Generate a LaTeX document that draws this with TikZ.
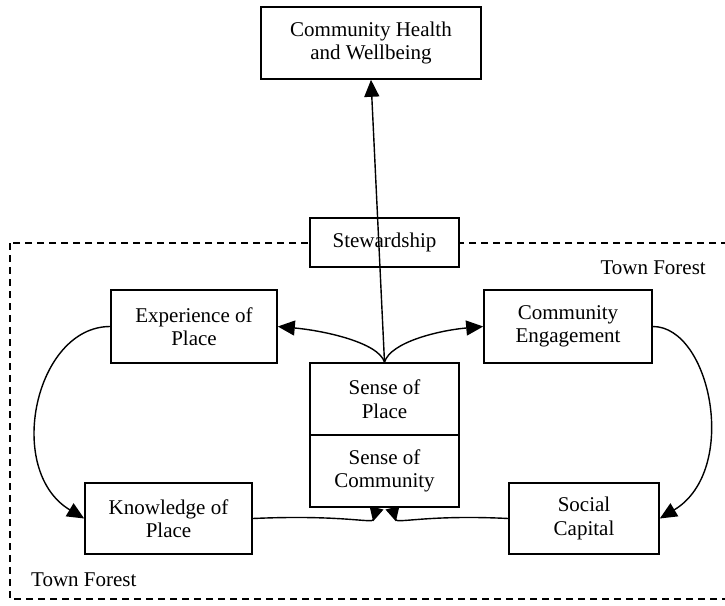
\documentclass[tikz,border=0pt]{standalone}
\usepackage{fontspec}
\setmainfont{Liberation Serif}
\usetikzlibrary{arrows.meta}
\begin{document}
\begin{tikzpicture}[x=1pt,y=-1pt,
  box/.style={draw, line width=1.6pt, fill=white, align=center, inner sep=0pt,
    font=\fontsize{21}{23.5}\selectfont},
  lbl/.style={inner sep=0pt, font=\fontsize{21}{23.5}\selectfont},
  conn/.style={line width=1.4pt, -{Triangle[length=17pt,width=15pt]}},
  rconn/.style={line width=1.4pt, -{Triangle[reversed,length=14pt,width=14pt]}},
  forest/.style={line width=1.3pt, dash pattern=on 7pt off 5pt}]
\useasboundingbox (0,0) rectangle (725,605);
\begin{scope}
\clip (0,0) rectangle (725,605);
\draw[forest] (10,243) rectangle (745,599);
\end{scope}
\node[box, minimum width=220pt, minimum height=72pt] (top) at (371,43) {Community Health\\and Wellbeing};
\node[box, minimum width=149pt, minimum height=49pt] (stew) at (384.5,242.5) {Stewardship};
\node[box, minimum width=166pt, minimum height=73pt] (exp) at (194,326.5) {Experience of\\Place};
\node[box, minimum width=168pt, minimum height=73pt] (ce) at (568,326.5) {Community\\Engagement};
\node[box, minimum width=149pt, minimum height=72pt] (sop) at (384.5,399) {Sense of\\Place};
\node[box, minimum width=149pt, minimum height=72pt] (soc) at (384.5,471) {Sense of\\Community};
\node[box, minimum width=167pt, minimum height=71pt] (kop) at (168.5,518.5) {Knowledge of\\Place};
\node[box, minimum width=150pt, minimum height=71pt] (sc) at (584,518.5) {Social\\Capital};
\node[lbl, anchor=east] (tf1) at (706,268) {Town Forest};
\node[lbl, anchor=west] (tf2) at (31,580) {Town Forest};
% connectors
\draw[conn] (sop.north) -- (top.south);
\draw[conn] (sop.north) .. controls +(-6,-20) and +(45,4) .. (exp.east);
\draw[conn] (sop.north) .. controls +(6,-20) and +(-45,4) .. (ce.west);
\draw[conn] (exp.west) .. controls +(-75,0) and +(-80,-48) .. (kop.west);
\draw[conn] (ce.east) .. controls +(58,0) and +(80,-48) .. (sc.east);
\draw[rconn] (kop.east) .. controls +(90,-4) and +(-4,16) .. ([xshift=-8pt]soc.south);
\draw[rconn] (sc.west) .. controls +(-80,-4) and +(4,16) .. ([xshift=8pt]soc.south);
\end{tikzpicture}
\end{document}
